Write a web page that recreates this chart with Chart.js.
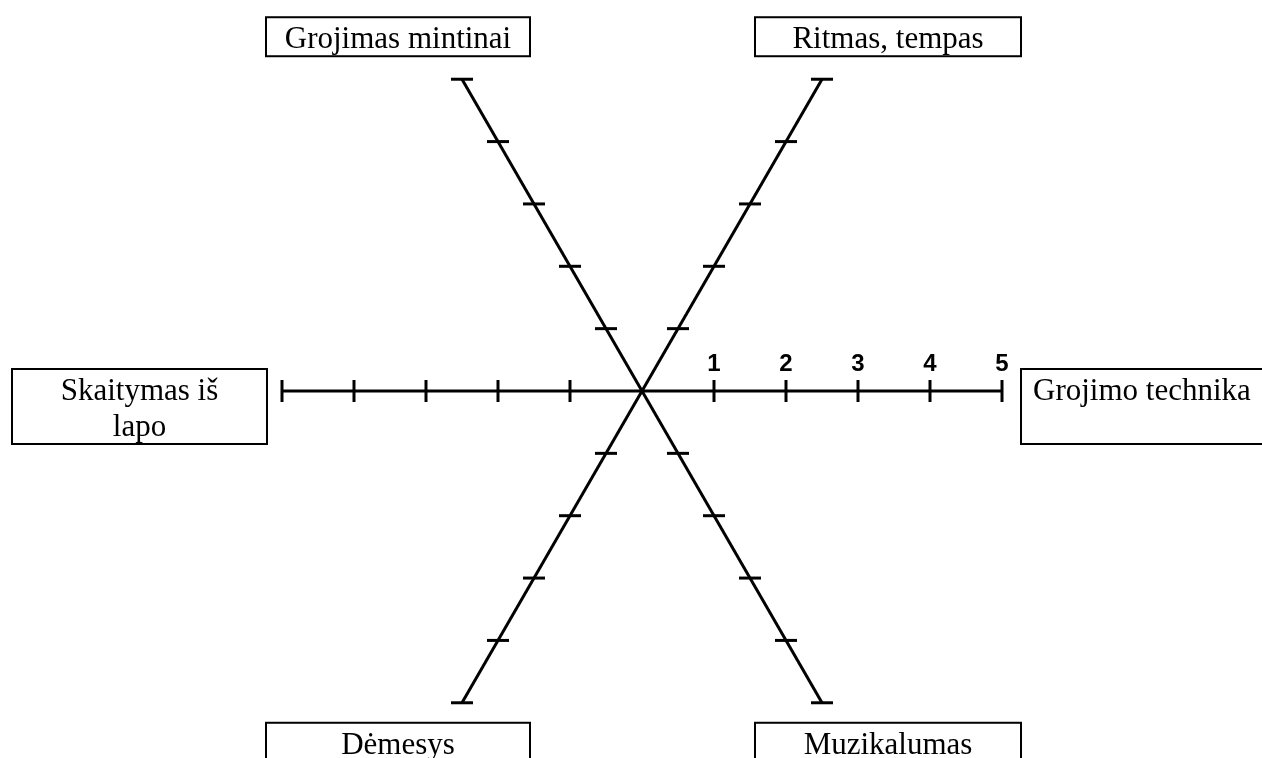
<!DOCTYPE html>
<html>
<head>
<meta charset="utf-8">
<script src="https://cdn.jsdelivr.net/npm/chart.js@4"></script>
<style>
  html, body { margin: 0; padding: 0; background: #ffffff; }
  #wrap { width: 1262px; height: 758px; position: relative; }
</style>
</head>
<body>
<div id="wrap"><canvas id="c" width="1262" height="758"></canvas></div>
<script>
// Axis categories (clockwise, starting at upper right)
const categories = ['Ritmas, tempas', 'Grojimo technika', 'Muzikalumas', 'Dėmesys', 'Skaitymas iš lapo', 'Grojimas mintinai'];
// Category labels split into box lines
const labelLines = [['Ritmas, tempas'], ['Grojimo technika'], ['Muzikalumas'], ['Dėmesys'], ['Skaitymas iš', 'lapo'], ['Grojimas mintinai']];
// Scale values (empty evaluation template: no scores entered)
const scoreValues = [null, null, null, null, null, null];
const scaleMin = 0;
const scaleMax = 5;
const tickLabels = ['1', '2', '3', '4', '5'];

const axisTicksPlugin = {
  id: 'axisTicks',
  afterDraw(chart) {
    const s = chart.scales.r;
    const ctx = chart.ctx;
    ctx.save();
    ctx.strokeStyle = '#000';
    ctx.lineWidth = 3;
    const half = 11;
    // tick marks + end caps on every axis
    categories.forEach((_, i) => {
      const ang = s.getIndexAngle(i) - Math.PI / 2;
      const horizontalAxis = Math.abs(Math.sin(ang)) < 0.2;
      tickLabels.forEach((t) => {
        const p = s.getPointPositionForValue(i, Number(t));
        ctx.beginPath();
        if (horizontalAxis) {
          ctx.moveTo(p.x, p.y - half);
          ctx.lineTo(p.x, p.y + half);
        } else {
          ctx.moveTo(p.x - half, p.y);
          ctx.lineTo(p.x + half, p.y);
        }
        ctx.stroke();
      });
    });
    // tick numbers above the right-hand axis
    ctx.fillStyle = '#000';
    ctx.font = 'bold 24px "Liberation Sans", Arial, sans-serif';
    ctx.textAlign = 'center';
    ctx.textBaseline = 'alphabetic';
    tickLabels.forEach((t) => {
      const p = s.getPointPositionForValue(1, Number(t));
      ctx.fillText(t, p.x, p.y - 20);
    });

    // boxed category labels
    const ends = categories.map((_, i) => s.getPointPositionForValue(i, scaleMax));
    const xL = ends[4].x - 15;
    const xR = ends[1].x + 19;
    const boxW = 264, boxH = 39;
    const topY = Math.min(ends[0].y, ends[5].y) - 23 - boxH;
    const botY = Math.max(ends[2].y, ends[3].y) + 20;
    const midY = s.yCenter - 22;
    const boxes = [
      { x: xR - 266, y: topY, w: 266, h: boxH, align: 'center' },
      { x: xR, y: midY, w: 280, h: 75, align: 'left' },
      { x: xR - 266, y: botY, w: 266, h: 80, align: 'center' },
      { x: xL - 1, y: botY, w: boxW, h: 80, align: 'center' },
      { x: xL - 255, y: midY, w: 255, h: 75, align: 'center' },
      { x: xL - 1, y: topY, w: boxW, h: boxH, align: 'center' }
    ];
    ctx.lineWidth = 2;
    ctx.font = '31px "Liberation Serif", "Times New Roman", serif';
    boxes.forEach((b, i) => {
      ctx.fillStyle = '#fff';
      ctx.fillRect(b.x, b.y, b.w, b.h);
      ctx.strokeRect(b.x, b.y, b.w, b.h);
      ctx.fillStyle = '#000';
      ctx.textAlign = b.align;
      labelLines[i].forEach((line, k) => {
        const tx = b.align === 'left' ? b.x + 12 : b.x + b.w / 2;
        ctx.fillText(line, tx, b.y + 31 + k * 36);
      });
    });
    ctx.restore();
  }
};

new Chart(document.getElementById('c'), {
  type: 'radar',
  data: {
    labels: categories,
    datasets: [{
      label: 'Įvertinimas',
      data: scoreValues,
      borderColor: '#000',
      backgroundColor: 'rgba(0,0,0,0)',
      pointRadius: 0
    }]
  },
  options: {
    responsive: false,
    animation: false,
    layout: { padding: { left: 22, right: 0, top: 31, bottom: 7 } },
    plugins: { legend: { display: false }, tooltip: { enabled: false } },
    scales: {
      r: {
        min: scaleMin,
        max: scaleMax,
        startAngle: 30,
        ticks: { display: false, stepSize: 1 },
        grid: { display: false },
        angleLines: { display: true, color: '#000', lineWidth: 3 },
        pointLabels: { display: false }
      }
    }
  },
  plugins: [axisTicksPlugin]
});
</script>
</body>
</html>
